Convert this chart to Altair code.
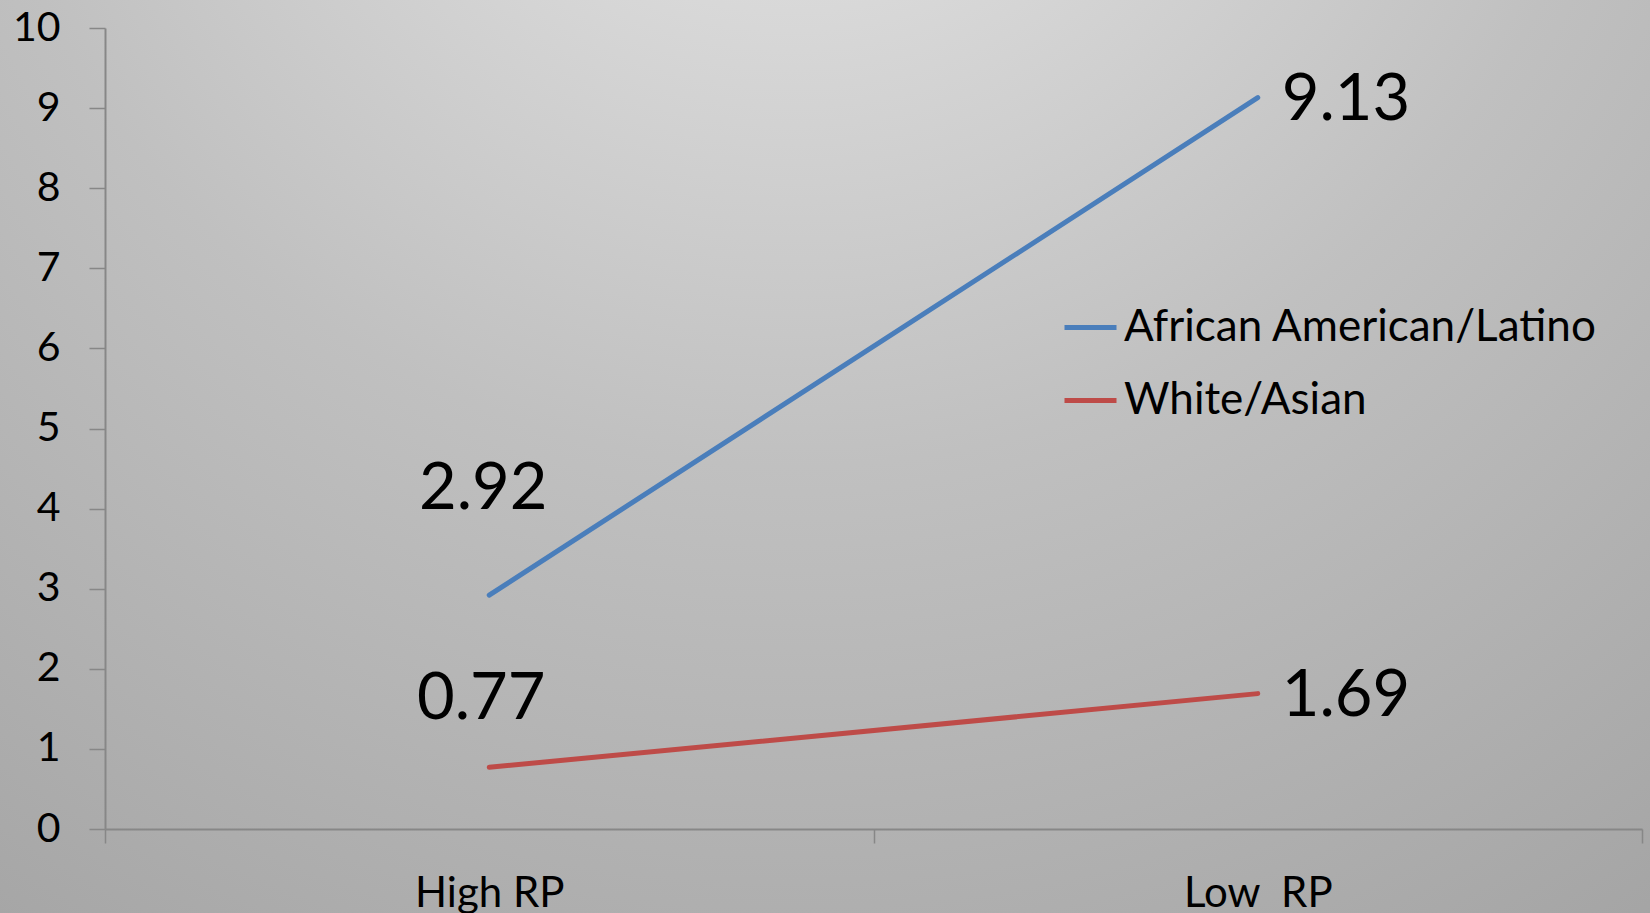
import altair as alt
import pandas as pd

# Mean scores by racial group and RP level
categories = ["High RP", "Low\u00a0 RP"]
groups = ["African American/Latino", "White/Asian"]
african_american_latino = [2.92, 9.13]
white_asian = [0.77, 1.69]

line_colors = ["#4A7EBB", "#BE4B48"]
FONT = "Lato"

rows = []
for group, values in zip(groups, [african_american_latino, white_asian]):
    for cat, val in zip(categories, values):
        rows.append({"phase": cat, "group": group, "value": val})
df = pd.DataFrame(rows)

W, H = 1537, 801
PAD_L, PAD_T, PAD_R, PAD_B = 105, 28, 8, 84

x_enc = alt.X(
    "phase:N",
    sort=categories,
    bandPosition=0.5,
    scale=alt.Scale(type="band", paddingInner=0, paddingOuter=0),
    axis=alt.Axis(
        title=None,
        tickBand="extent",
        tickSize=14,
        tickColor="#878787",
        tickWidth=1.5,
        domainColor="#878787",
        domainWidth=2,
        labelAngle=0,
        labelFont=FONT,
        labelFontSize=42,
        labelColor="#000000",
        labelPadding=30,
        labelBaseline="top",
        zindex=1,
    ),
)
y_enc = alt.Y(
    "value:Q",
    scale=alt.Scale(domain=[0, 10], nice=False),
    axis=alt.Axis(
        title=None,
        values=list(range(0, 11)),
        grid=False,
        tickSize=16,
        tickColor="#878787",
        tickWidth=1.5,
        domainColor="#878787",
        domainWidth=2,
        labelFont=FONT,
        labelFontSize=41,
        labelColor="#000000",
        labelPadding=29,
        zindex=1,
    ),
)
color_enc = alt.Color(
    "group:N",
    sort=groups,
    scale=alt.Scale(domain=groups, range=line_colors),
    legend=alt.Legend(
        title=None,
        orient="none",
        legendX=957,
        legendY=271,
        symbolType="stroke",
        symbolSize=2704,
        symbolStrokeWidth=5,
        labelFont=FONT,
        labelFontSize=44,
        labelColor="#000000",
        labelOffset=5,
        rowPadding=22,
        labelLimit=800,
    ),
)

# Soft radial backdrop spanning the whole canvas
backdrop = alt.Chart(pd.DataFrame({"k": [0]})).mark_rect(
    fill=alt.Gradient(
        gradient="radial",
        stops=[
            alt.GradientStop(color="#ececec", offset=0),
            alt.GradientStop(color="#c0c0c0", offset=0.44),
            alt.GradientStop(color="#a2a2a2", offset=0.85),
            alt.GradientStop(color="#959595", offset=1),
        ],
        x1=0.48, y1=0, r1=0,
        x2=0.48, y2=0, r2=1.15,
    )
).encode(
    x=alt.value(-PAD_L),
    x2=alt.value(W + PAD_R),
    y=alt.value(-PAD_T),
    y2=alt.value(H + PAD_B),
)

base = alt.Chart(df)

lines = base.mark_line(strokeWidth=5, strokeCap="round").encode(
    x=x_enc, y=y_enc, color=color_enc
)

text_style = dict(font=FONT, fontSize=65, color="#000000")

low_labels = base.transform_filter(alt.datum.phase == categories[1]).mark_text(
    align="left", baseline="middle", dx=24, dy=2, **text_style
).encode(x=x_enc, y=y_enc, text=alt.Text("value:Q", format=".2f"))

high_top = base.transform_filter(
    (alt.datum.phase == categories[0]) & (alt.datum.group == groups[0])
).mark_text(align="center", baseline="alphabetic", dx=-6, dy=-86, **text_style).encode(
    x=x_enc, y=y_enc, text=alt.Text("value:Q", format=".2f")
)

high_bottom = base.transform_filter(
    (alt.datum.phase == categories[0]) & (alt.datum.group == groups[1])
).mark_text(align="center", baseline="alphabetic", dx=-8, dy=-48, **text_style).encode(
    x=x_enc, y=y_enc, text=alt.Text("value:Q", format=".2f")
)

chart = alt.layer(backdrop, lines, low_labels, high_top, high_bottom).properties(
    width=W,
    height=H,
    padding={"left": PAD_L, "top": PAD_T, "right": PAD_R, "bottom": PAD_B},
    autosize=alt.AutoSizeParams(type="none"),
).configure_view(stroke=None)

chart.save("out.html", embed_options={"renderer": "svg", "actions": False})
